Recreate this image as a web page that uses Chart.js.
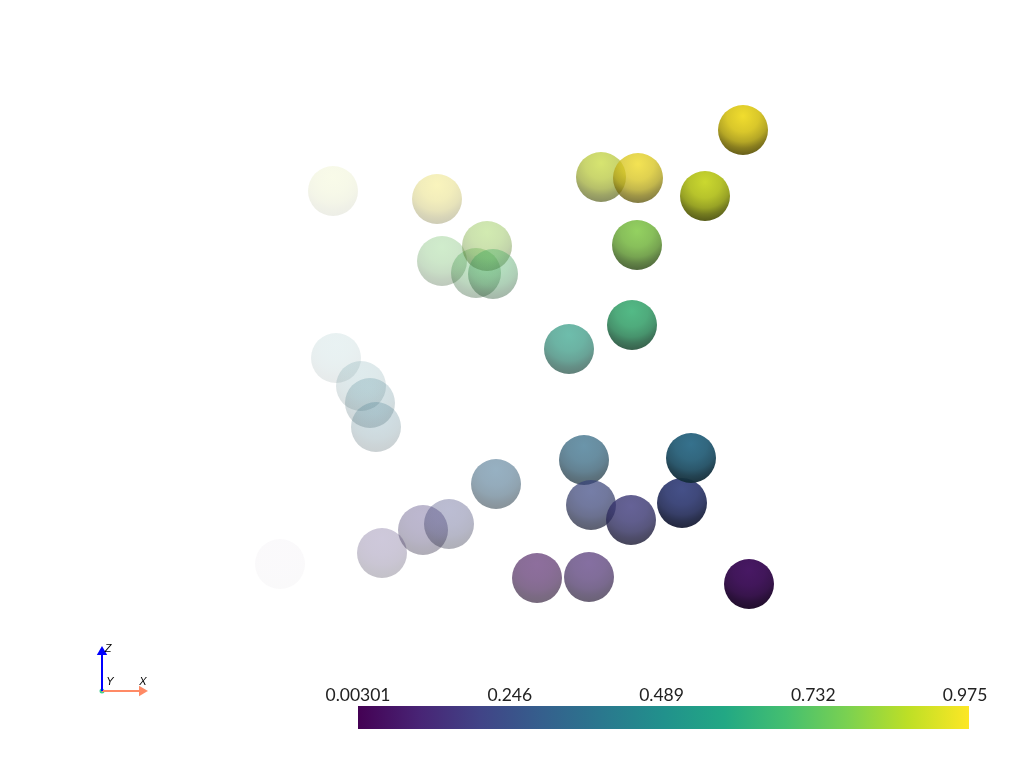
<!DOCTYPE html>
<html>
<head>
<meta charset="utf-8">
<title>Spheres</title>
<script src="https://cdn.jsdelivr.net/npm/chart.js@4/dist/chart.umd.js"></script>
<style>
    html, body { margin: 0; padding: 0; background: #fff; }
    #wrap { position: relative; width: 1024px; height: 768px; overflow: hidden; }
    canvas { position: absolute; left: 0; }
    #spheres { top: 0; }
    #colorbar { top: 660px; }
</style>
</head>
<body>
<div id="wrap">
    <canvas id="spheres" width="1024" height="768"></canvas>
    <canvas id="colorbar" width="1024" height="80"></canvas>
</div>
<script>
// in image units (column, row)
const sphereX = [280, 333, 336, 361, 370, 376, 382, 423, 442, 437, 449, 476, 487, 493, 496, 537, 569, 589, 601, 584, 591, 637, 631, 638, 632, 682, 691, 705, 743, 749];
const sphereY = [564, 191, 358, 386, 403, 427, 553, 530, 261, 199, 524, 273, 246, 274, 484, 578, 349, 577, 177, 460, 505, 245, 520, 178, 325, 503, 458, 196, 130, 584];
const sphereValues = [0.04, 0.9, 0.45, 0.42, 0.4, 0.38, 0.13, 0.15, 0.75, 0.97, 0.2, 0.72, 0.82, 0.7, 0.33, 0.04, 0.56, 0.1, 0.9, 0.35, 0.22, 0.8, 0.18, 0.975, 0.65, 0.22, 0.36, 0.91, 0.975, 0.05];
const sphereOpacity = [0.025, 0.1, 0.1, 0.15, 0.2, 0.22, 0.26, 0.35, 0.3, 0.3, 0.35, 0.35, 0.4, 0.4, 0.5, 0.6, 0.65, 0.65, 0.65, 0.7, 0.7, 0.85, 0.8, 0.78, 0.85, 0.95, 0.95, 0.95, 0.95, 0.97];
const sphereRadius = 25;

const colorbarTicks = [0.00301, 0.246, 0.489, 0.732, 0.975];
const colorbarLabels = ['0.00301', '0.246', '0.489', '0.732', '0.975'];
const colorbarEnd = 0.9814;

const axisOrigin = [102, 691];
const axisXTip = [142, 691];
const axisZTip = [102, 652];

const viridis = ['#440154', '#482475', '#414487', '#355f8d', '#2a788e', '#21918c', '#22a884', '#44bf70', '#7ad151', '#bddf26', '#fde725'];

const hexToRgb = hex => [1, 3, 5].map(i => parseInt(hex.slice(i, i + 2), 16));

const viridisAt = value => {
    const low = colorbarTicks[0];
    const high = colorbarTicks[colorbarTicks.length - 1];
    const t = (value - low) / (high - low);
    const pos = Math.min(Math.max(t, 0), 1) * (viridis.length - 1);
    const i = Math.min(Math.floor(pos), viridis.length - 2);
    const a = hexToRgb(viridis[i]);
    const b = hexToRgb(viridis[i + 1]);
    return a.map((c, k) => c + (b[k] - c) * (pos - i));
};

// fake the vtk lighting: bright up top, dim band along the bottom
const sphereFill = context => {
    if (context.type !== 'data') return 'transparent';
    const chart = context.chart;
    const i = context.dataIndex;
    const cx = chart.scales.x.getPixelForValue(sphereX[i]);
    const cy = chart.scales.y.getPixelForValue(sphereY[i]);
    // options get resolved once before the scales have a size
    if (!Number.isFinite(cx) || !Number.isFinite(cy)) return 'transparent';
    const rgb = viridisAt(sphereValues[i]);
    const alpha = sphereOpacity[i];
    const shade = f => `rgba(${rgb.map(c => Math.round(c * f)).join(',')},${alpha})`;
    const g = chart.ctx.createRadialGradient(cx, cy - 14, 0, cx, cy - 14, 40);
    g.addColorStop(0, shade(0.95));
    g.addColorStop(0.4, shade(0.85));
    g.addColorStop(0.65, shade(0.7));
    g.addColorStop(0.8, shade(0.52));
    g.addColorStop(1, shade(0.35));
    return g;
};

const axisLabels = {
    id: 'axisLabels',
    afterDatasetsDraw(chart) {
        const ctx = chart.ctx;
        ctx.save();
        ctx.fillStyle = '#000';
        ctx.font = 'italic 11px "Liberation Sans"';
        ctx.textBaseline = 'middle';
        ctx.textAlign = 'center';
        ctx.fillText('Z', 108, 649);
        ctx.fillText('Y', 110, 682);
        ctx.fillText('X', 143, 682);
        ctx.restore();
    }
};

const toPoint = p => ({ x: p[0], y: p[1] });

new Chart(document.getElementById('spheres'), {
    data: {
        datasets: [
            {
                type: 'scatter',
                data: [toPoint(axisOrigin), toPoint(axisZTip)],
                showLine: true,
                borderColor: '#0000ff',
                backgroundColor: '#0000ff',
                borderWidth: 2,
                pointStyle: 'triangle',
                pointRadius: [0, 4],
                pointRotation: 0
            },
            {
                type: 'scatter',
                data: [toPoint(axisOrigin), toPoint(axisXTip)],
                showLine: true,
                borderColor: '#ff8a65',
                backgroundColor: '#ff8a65',
                borderWidth: 2,
                pointStyle: 'triangle',
                pointRadius: [0, 4],
                pointRotation: 90
            },
            {
                type: 'scatter',
                data: [toPoint(axisOrigin)],
                backgroundColor: '#3ecf8e',
                borderWidth: 0,
                pointRadius: 2.5
            },
            {
                type: 'bubble',
                data: sphereX.map((x, i) => ({ x: x, y: sphereY[i], r: sphereRadius })),
                backgroundColor: sphereFill,
                borderWidth: 0,
                hoverBorderWidth: 0
            }
        ]
    },
    options: {
        responsive: false,
        animation: false,
        events: [],
        layout: { padding: 0, autoPadding: false },
        scales: {
            x: { type: 'linear', min: 0, max: 1024, display: false },
            y: { type: 'linear', min: 0, max: 768, reverse: true, display: false }
        },
        plugins: {
            legend: { display: false },
            tooltip: { enabled: false }
        }
    },
    plugins: [axisLabels]
});

const colorbarFill = context => {
    const area = context.chart.chartArea;
    if (!area) return viridis[0];
    const g = context.chart.ctx.createLinearGradient(area.left, 0, area.right, 0);
    viridis.forEach((c, i) => g.addColorStop(i / (viridis.length - 1), c));
    return g;
};

new Chart(document.getElementById('colorbar'), {
    type: 'bar',
    data: {
        labels: ['scalars'],
        datasets: [{
            data: [[colorbarTicks[0], colorbarEnd]],
            backgroundColor: colorbarFill,
            borderWidth: 0,
            barPercentage: 1,
            categoryPercentage: 1
        }]
    },
    options: {
        indexAxis: 'y',
        responsive: false,
        animation: false,
        events: [],
        layout: { padding: { left: 358, right: 55, top: 0, bottom: 11 } },
        scales: {
            x: {
                type: 'linear',
                position: 'top',
                min: colorbarTicks[0],
                max: colorbarEnd,
                grid: { display: false, drawTicks: false },
                border: { display: false },
                afterBuildTicks: scale => {
                    scale.ticks = colorbarTicks.map(v => ({ value: v }));
                },
                afterFit: scale => {
                    scale.height = 46;
                },
                ticks: {
                    autoSkip: false,
                    maxRotation: 0,
                    padding: 0,
                    color: '#222',
                    font: { family: 'Lato', size: 17.5 },
                    callback: (value, index) => colorbarLabels[index]
                }
            },
            y: { display: false }
        },
        plugins: {
            legend: { display: false },
            tooltip: { enabled: false }
        }
    }
});
</script>
</body>
</html>
